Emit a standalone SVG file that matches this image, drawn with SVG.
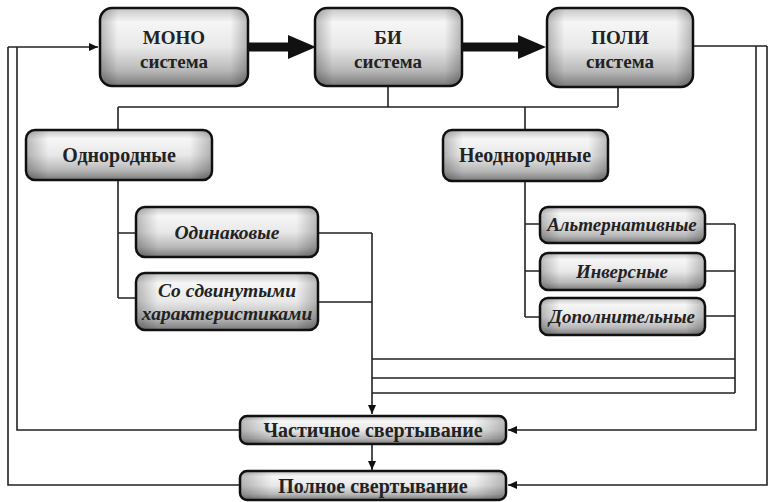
<svg xmlns="http://www.w3.org/2000/svg" width="769" height="502" viewBox="0 0 769 502">
<defs>
<linearGradient id="g" x1="0" y1="0" x2="0" y2="1">
<stop offset="0" stop-color="#c4c4c4"/>
<stop offset="0.18" stop-color="#f6f6f6"/>
<stop offset="0.5" stop-color="#e8e8e8"/>
<stop offset="0.8" stop-color="#b8b8b8"/>
<stop offset="1" stop-color="#7a7a7a"/>
</linearGradient>
<linearGradient id="gh" x1="0" y1="0" x2="1" y2="0">
<stop offset="0" stop-color="#000" stop-opacity="0.25"/>
<stop offset="0.12" stop-color="#000" stop-opacity="0"/>
<stop offset="0.88" stop-color="#000" stop-opacity="0"/>
<stop offset="1" stop-color="#000" stop-opacity="0.25"/>
</linearGradient>
<marker id="a" markerWidth="10" markerHeight="10" refX="9" refY="5" orient="auto" markerUnits="userSpaceOnUse">
<path d="M0,1 L9,5 L0,9 Z" fill="#111"/>
</marker>
</defs>
<style>
.b{fill:url(#g);stroke:#111;stroke-width:2.5}
.s{fill:url(#gh);stroke:none}
.t{font-family:"Liberation Serif","DejaVu Serif",serif;font-weight:bold;fill:#222;text-anchor:middle}
.i{font-style:italic}
.c{fill:none;stroke:#222;stroke-width:1.6}
</style>
<rect width="769" height="502" fill="#fff"/>
<g id="connectors">
<path d="M288,35 L316,47 L288,59 Z" fill="#111"/>
<path d="M248,47 H292" stroke="#111" stroke-width="9"/>
<path d="M462,47 H520" stroke="#111" stroke-width="9"/>
<path d="M518,35 L546,47 L518,59 Z" fill="#111"/>
<path class="c" d="M388,86 V107 M618,87 V107 M118,107 H618 M118,107 V130 M525,107 V130"/>
<path class="c" d="M118,180 V298 M118,233 H136 M118,298 H136"/>
<path class="c" d="M318,233 H372 M318,302 H372"/>
<path class="c" d="M372,233 V414" marker-end="url(#a)"/>
<path class="c" d="M525,181 V317 M525,224 H540 M525,271 H540 M525,317 H540"/>
<path class="c" d="M705,224 H735 M705,271 H735 M705,316 H735 M735,224 V393"/>
<path class="c" d="M372,359 H735 M372,378 H735 M372,393 H735"/>
<path class="c" d="M372,444 V470" marker-end="url(#a)"/>
<path class="c" d="M693,46 H767 M756,46 V430 H508" marker-end="url(#a)"/>
<path class="c" d="M767,46 V485 H508" marker-end="url(#a)"/>
<path class="c" d="M8,47 H98" marker-end="url(#a)"/>
<path class="c" d="M8,47 V485 H240 M17,47 V430 H240"/>
</g>
<g id="mono"><rect class="b" x="100" y="8" width="148" height="78" rx="12"/><rect class="s" x="100" y="8" width="148" height="78" rx="12"/>
<text class="t" x="174" y="44" font-size="19">МОНО</text><text class="t" x="174" y="68" font-size="19">система</text></g>
<g id="bi"><rect class="b" x="315" y="8" width="147" height="78" rx="12"/><rect class="s" x="315" y="8" width="147" height="78" rx="12"/>
<text class="t" x="388" y="44" font-size="19">БИ</text><text class="t" x="388" y="68" font-size="19">система</text></g>
<g id="poli"><rect class="b" x="547" y="8" width="146" height="79" rx="12"/><rect class="s" x="547" y="8" width="146" height="79" rx="12"/>
<text class="t" x="620" y="44" font-size="19">ПОЛИ</text><text class="t" x="620" y="68" font-size="19">система</text></g>
<g id="odnorodnye"><rect class="b" x="26" y="130" width="186" height="50" rx="9"/><rect class="s" x="26" y="130" width="186" height="50" rx="9"/>
<text class="t" x="119" y="162" font-size="20">Однородные</text></g>
<g id="neodnorodnye"><rect class="b" x="443" y="130" width="165" height="51" rx="9"/><rect class="s" x="443" y="130" width="165" height="51" rx="9"/>
<text class="t" x="525" y="162" font-size="20">Неоднородные</text></g>
<g id="odinakovye"><rect class="b" x="136" y="207" width="182" height="50" rx="9"/><rect class="s" x="136" y="207" width="182" height="50" rx="9"/>
<text class="t i" x="227" y="239" font-size="19.5">Одинаковые</text></g>
<g id="sdvinutye"><rect class="b" x="136" y="273" width="182" height="57" rx="9"/><rect class="s" x="136" y="273" width="182" height="57" rx="9"/>
<text class="t i" x="227" y="297" font-size="19.5">Со сдвинутыми</text><text class="t i" x="227" y="320" font-size="19.5">характеристиками</text></g>
<g id="alt"><rect class="b" x="540" y="207" width="165" height="36" rx="8"/><rect class="s" x="540" y="207" width="165" height="36" rx="8"/>
<text class="t i" x="622" y="231" font-size="19">Альтернативные</text></g>
<g id="inv"><rect class="b" x="540" y="253" width="165" height="37" rx="8"/><rect class="s" x="540" y="253" width="165" height="37" rx="8"/>
<text class="t i" x="622" y="278" font-size="19">Инверсные</text></g>
<g id="dop"><rect class="b" x="540" y="298" width="165" height="37" rx="8"/><rect class="s" x="540" y="298" width="165" height="37" rx="8"/>
<text class="t i" x="622" y="323" font-size="19">Дополнительные</text></g>
<g id="chastichnoe"><rect class="b" x="240" y="416" width="266" height="28" rx="7"/><rect class="s" x="240" y="416" width="266" height="28" rx="7"/>
<text class="t" x="373" y="437" font-size="20">Частичное свертывание</text></g>
<g id="polnoe"><rect class="b" x="240" y="471" width="266" height="29" rx="7"/><rect class="s" x="240" y="471" width="266" height="29" rx="7"/>
<text class="t" x="373" y="493" font-size="20">Полное свертывание</text></g>
</svg>
